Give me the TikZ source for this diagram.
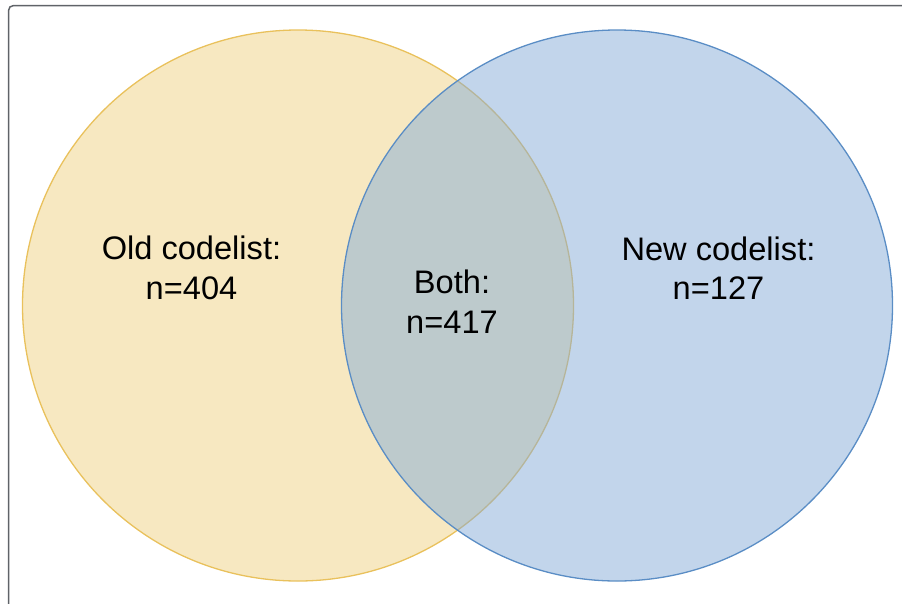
\documentclass[tikz,border=0pt]{standalone}
\usepackage{fontspec}
\setmainfont{Liberation Sans}
\definecolor{oldfill}{HTML}{EFD283}
\definecolor{oldline}{HTML}{E9C15C}
\definecolor{newfill}{HTML}{85ABD7}
\definecolor{newline}{HTML}{5A8DC5}
\definecolor{frame}{HTML}{5F6368}
\tikzset{
  setcircle/.style={circle, minimum size=551pt, inner sep=0pt, line width=1.3pt, fill opacity=0.5, draw opacity=1},
  setlabel/.style={align=center, font=\fontsize{32.6}{39.5}\selectfont, text=black, inner sep=0pt}
}
\begin{document}
\begin{tikzpicture}[x=1pt, y=-1pt]
\useasboundingbox (0,0) rectangle (902,603);
\draw[frame, line width=1.5pt, rounded corners=5pt] (8.5,615) -- (8.5,5.5) -- (915,5.5);
\node[setcircle, fill=oldfill, draw=oldline] (old) at (298,305.5) {};
\node[setcircle, fill=newfill, draw=newline] (new) at (617,305.5) {};
\node[setlabel] (oldlab) at (191.5,268) {Old codelist:\\n=404};
\node[setlabel] (bothlab) at (452,301.5) {Both:\\n=417};
\node[setlabel] (newlab) at (718.5,268) {New codelist:\\n=127};
\end{tikzpicture}
\end{document}
